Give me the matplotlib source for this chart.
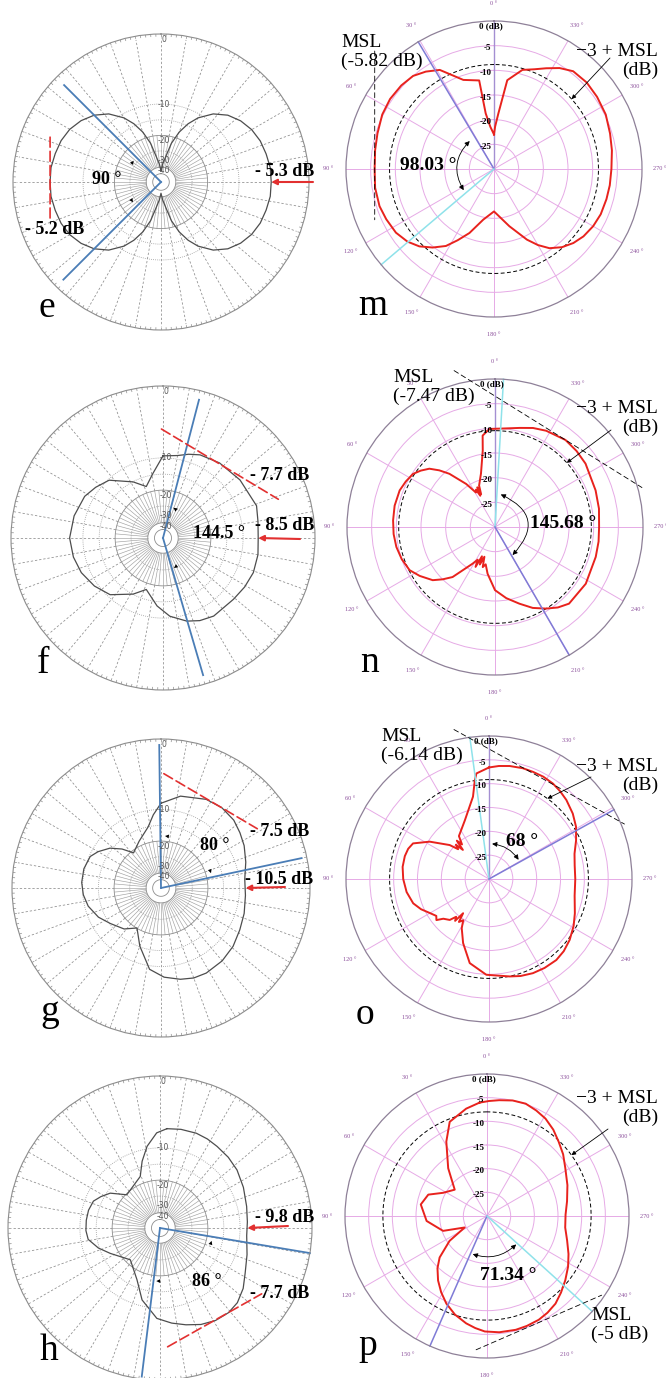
import numpy as np
import matplotlib
matplotlib.use('Agg')
import matplotlib.pyplot as plt

W, H = 666, 1378
SERIF = 'Liberation Serif'

# left panels: simulated patterns (clockwise degrees, dB)
e_ang = [0, 5, 10, 15, 20, 25, 30, 37.5, 45, 52.5, 60, 67.5, 75, 82.5, 90, 97.5, 105, 112.5, 120, 127.5,
         135, 142.5, 150, 155, 160, 165, 170, 175, 180,
         185, 190, 195, 200, 205, 210, 217.5, 225, 232.5, 240, 247.5, 255, 262.5, 270, 277.5, 285, 292.5,
         300, 307.5, 315, 322.5, 330, 335, 340, 345, 350, 355, 360]
e_db = [-40, -33, -27.9, -20.4, -16.0, -13.0, -10.8, -8.5, -7.0, -6.05, -5.4, -5.0, -4.8, -4.6, -4.6, -4.6,
        -4.8, -5.0, -5.4, -6.05, -7.0, -8.5, -10.8, -13.0, -16.0, -20.4, -27.9, -33, -40,
        -33, -27.9, -20.4, -16.0, -13.0, -10.8, -8.5, -7.0, -6.0, -5.3, -4.9, -4.7, -4.5, -4.5, -4.5, -4.7,
        -4.9, -5.3, -6.0, -7.0, -8.5, -10.8, -13.0, -16.0, -20.4, -27.9, -33, -40]
f_ang = [0, 10, 17, 24, 37, 53, 71, 80, 90, 100, 111, 121, 131, 147, 156, 164, 175, 185, 198, 208, 223, 235,
         247, 258, 270, 284, 298, 307, 317, 332, 342, 351, 360]
f_db = [-9.6, -9.3, -8.6, -8.0, -7.5, -7.1, -6.7, -7.1, -7.3, -7.1, -7.05, -7.3, -7.6, -7.65, -8.1, -8.8,
        -10.3, -12.5, -16.1, -13.6, -10.5, -9.3, -8.4, -7.9, -7.6, -7.9, -8.4, -9.2, -10.2, -13.6, -16.1,
        -13.2, -9.6]
g_ang = [0, 12, 27, 37, 47, 55, 63, 73, 84, 95, 107, 118, 129, 140, 152, 160, 168, 178, 188, 200, 211, 222,
         235, 245, 256, 265, 274, 284, 294, 300, 308, 315, 322, 335, 348, 354, 360]
g_db = [-8.8, -7.2, -6.3, -6.1, -6.3, -6.8, -7.3, -8.1, -8.9, -8.8, -8.4, -8.0, -7.4, -7.0, -6.8, -6.9, -7.3,
        -8.0, -9.3, -13.7, -18.1, -15.5, -13.7, -12.0, -10.7, -10.1, -9.8, -9.8, -10.2, -11.2, -13.0, -15.5,
        -18.8, -16.5, -13.6, -11.0, -8.8]
h_ang = [4, 12, 21, 28, 35, 44, 53, 64, 76, 86, 95, 107, 118, 126, 134, 141, 149, 157, 165, 173, 182, 194,
         204, 223, 243, 252, 261, 268, 276, 284, 292, 298, 305, 315, 339, 345, 351, 358, 364]
h_db = [-6.6, -6.4, -6.3, -6.4, -6.6, -6.8, -7.1, -7.7, -8.3, -8.6, -8.7, -8.0, -7.1, -6.1, -5.4, -5.2,
        -5.35, -5.8, -6.5, -7.2, -8.1, -11.2, -15.4, -19.5, -15.6, -13.3, -11.5, -11.2, -11.2, -11.3, -11.7,
        -12.8, -14.3, -18.3, -15.8, -12.3, -9.5, -7.3, -6.6]

# right panels: measured patterns (counter-clockwise degrees, dB)
m_ang = [0, 5, 8.5, 9.5, 19, 28.7, 35, 41, 48, 56, 64, 73, 81, 90, 99, 108, 115, 123, 130, 136, 142, 148,
         153, 159, 168, 180, 195, 205, 210, 215, 221, 227, 233, 240, 247, 255, 262, 270, 279, 287, 296, 305,
         313, 321, 327, 332.6, 338, 344, 351.5, 355.5, 358.5, 360]
m_db = [-23.0, -21.4, -18.6, -11.8, -10.9, -7.1, -5.9, -5.0, -4.7, -4.6, -4.8, -5.3, -5.6, -5.8, -5.6, -5.6,
        -5.9, -6.3, -7.1, -8.2, -9.8, -11.6, -13.8, -16.1, -19.5, -21.4, -18.0, -14.2, -12.2, -10.4, -9.0,
        -8.0, -7.3, -6.8, -6.5, -6.4, -6.3, -6.2, -5.8, -5.4, -4.8, -4.5, -4.3, -4.5, -5.6, -7.0, -8.2, -9.1,
        -11.8, -18.7, -21.4, -23.0]
n_ang = [3.3, 7.7, 9.1, 14.7, 21, 23, 24, 25.2, 27, 29, 33.8, 40.6, 44.5, 48.4, 52.8, 57.1, 63, 69, 78, 86.3,
         94, 101.4, 109, 116.8, 123, 130.5, 135, 139.7, 148.6, 152, 154, 156, 158, 160.4, 163, 166, 171, 180,
         189, 197.6, 205, 212, 218, 224, 238, 253.5, 262, 270, 280, 290, 305, 313, 321, 332, 339, 346, 363.3]
n_db = [-10.1, -11.3, -14.3, -18.8, -21.0, -22.8, -21.2, -23.0, -21.5, -22.0, -19.5, -15.8, -13.9, -12.2,
        -11.1, -10.2, -9.7, -9.3, -9.2, -9.3, -9.4, -9.6, -10.0, -10.6, -11.8, -13.4, -15.0, -16.7, -21.3,
        -22.5, -21.0, -23.5, -21.8, -23.6, -21.5, -22.2, -20.4, -17.2, -15.4, -13.7, -11.9, -10.5, -9.3,
        -8.4, -8.3, -8.7, -8.8, -8.9, -8.6, -8.3, -7.6, -7.4, -7.3, -7.9, -8.5, -9.3, -10.1]
o_ang = [0, 6.8, 8.2, 11, 22.4, 35, 38, 40, 41.9, 44, 46, 49.2, 57.8, 64.9, 69.5, 74.8, 82, 90, 99, 107.8,
         114, 120, 125, 128, 131, 136.2, 139, 141, 142.9, 145, 148, 151, 158, 167.1, 178.4, 192, 198, 205,
         212, 219.7, 226, 233, 241, 248.2, 259, 270, 279, 286.4, 294, 301, 308, 315.6, 321, 326.2, 332,
         337.7, 343, 349.6, 355, 360]
o_db = [-6.6, -7.7, -9.1, -12.4, -16.7, -19.0, -20.8, -19.5, -21.8, -20.0, -21.0, -19.1, -15.3, -12.4,
        -11.9, -11.7, -11.7, -12.0, -12.5, -13.3, -14.4, -15.7, -16.5, -16.0, -17.3, -18.1, -19.5, -18.7,
        -21.0, -19.0, -19.8, -18.2, -15.5, -11.9, -9.9, -9.1, -8.6, -8.2, -8.0, -7.9, -8.2, -8.8, -9.7,
        -10.6, -11.7, -11.9, -11.8, -11.3, -10.0, -8.7, -7.7, -6.8, -6.3, -5.9, -5.7, -5.7, -5.7, -5.9,
        -6.2, -6.6]
p_ang = [3.8, 11, 21.6, 28.7, 39.1, 50.8, 62.2, 70, 80.1, 94.7, 108.7, 117.2, 123.6, 131.2, 136.5, 142.8,
         149, 155.1, 162, 169, 174, 178.9, 186, 194.2, 200, 206.5, 212, 218, 224, 230.6, 238, 245, 253,
         261.6, 271, 280.5, 291, 301.5, 309, 316, 322.5, 329, 335, 341, 347.5, 354, 359, 363.8]
p_db = [-6.0, -6.9, -8.6, -12.1, -17.0, -21.2, -19.5, -16.8, -15.8, -17.2, -20.2, -24.7, -20.5, -16.7,
        -14.8, -12.9, -11.2, -9.6, -8.1, -6.9, -6.2, -5.6, -5.3, -5.2, -5.3, -5.5, -5.9, -6.5, -7.5, -8.6,
        -9.8, -11.0, -12.3, -13.3, -13.4, -12.8, -11.8, -10.6, -9.3, -8.2, -7.0, -6.0, -5.4, -4.9, -5.0,
        -5.4, -5.7, -6.0]

# annotated levels and beam widths
e_side, e_msl, e_beam = -5.3, -5.2, 90
f_side, f_msl, f_beam = -8.5, -7.7, 144.5
g_side, g_msl, g_beam = -10.5, -7.5, 80
h_side, h_msl, h_beam = -9.8, -7.7, 86
m_msl, m_beam = -5.82, 98.03
n_msl, n_beam = -7.47, 145.68
o_msl, o_beam = -6.14, 68
p_msl, p_beam = -5, 71.34

left_rings = [0, -10, -20, -30, -40]
left_ring_labels = ['0', '-10', '-20', '-30', '-40']
right_rings = [0, -5, -10, -15, -20, -25]
right_ring_labels = ['0 (dB)', '-5', '-10', '-15', '-20', '-25']
theta_labels = [f'{a} °' for a in range(0, 360, 30)]

RED = '#e23030'
CURVE = '#e8221d'
BLUE = '#4a7db6'
CYAN = '#8fe2ea'
VIOLET = '#7f7bd6'
GRAY = '#8c8c8c'

LMIN = -100


def fwd(d):
    return 10.0 ** (np.asarray(d, float) / 36.0)


def inv(r):
    return 36.0 * np.log10(np.clip(np.asarray(r, float), 1e-9, None))


C0 = fwd(LMIN)


def lfrac(d):
    return (fwd(d) - C0) / (1 - C0)


def ldb(f):
    return float(inv(np.asarray(f) * (1 - C0) + C0))


def rfrac(d):
    return (d + 30) / 30.0


def rdb(f):
    return 30.0 * f - 30.0


fig = plt.figure(figsize=(W / 100, H / 100), dpi=100)
fig.patch.set_facecolor('white')


def FF(x, y):
    return (x / W, 1 - y / H)


def polar_at(cx, cy, R):
    ax = fig.add_axes([(cx - R) / W, 1 - (cy + R) / H, 2 * R / W, 2 * R / H], projection='polar')
    ax.set_theta_zero_location('N')
    ax.patch.set_alpha(0)
    return ax


def straight(ax, th0, d0, s1, s2, frac, dval, **kw):
    # line tangent to the circle r=d0 at angle th0, running s1..s2 along the tangent
    f0 = frac(d0)
    p = [(np.radians(th0) + np.arctan2(s, f0), dval(np.hypot(f0, s))) for s in (s1, s2)]
    ax.annotate('', xy=p[1], xytext=p[0], annotation_clip=False,
                arrowprops=dict(arrowstyle='-', shrinkA=0, shrinkB=0, **kw))


def angle_arc(ax, th1, th2, d, sense, lw):
    rad = sense * np.tan(np.radians(th2 - th1) / 4)
    ax.annotate('', xy=(np.radians(th2), d), xytext=(np.radians(th1), d), annotation_clip=False,
                arrowprops=dict(arrowstyle='<|-|>', connectionstyle=f'arc3,rad={rad:.3f}', color='k',
                                lw=lw, mutation_scale=7, shrinkA=0, shrinkB=0))


def left_panel(cx, cy, R, ang, db):
    ax = polar_at(cx, cy, R)
    ax.set_theta_direction(-1)
    ax.set_rscale('function', functions=(fwd, inv))
    ax.set_ylim(LMIN, 0)
    ax.set_xticks([])
    ax.set_yticks([])
    ax.grid(False)
    ax.spines['polar'].set_color(GRAY)
    ax.spines['polar'].set_linewidth(0.8)
    t2 = np.radians(np.arange(0, 360, 2))
    t5 = np.radians(np.arange(0, 360, 5))
    t10 = np.radians(np.arange(0, 360, 10))
    ax.vlines(t2, ldb(0.982), 0, color=GRAY, lw=0.5)
    ax.vlines(t10, ldb(0.315), ldb(0.975), color=GRAY, lw=0.55, linestyles=(0, (3, 2.5)))
    ax.vlines(t5, ldb(0.10), ldb(0.315), color='#a0a0a0', lw=0.45)
    full = np.linspace(0, 2 * np.pi, 361)
    for f in (0.056, 0.10, 0.315):
        ax.plot(full, np.full_like(full, ldb(f)), color=GRAY, lw=0.6)
    for f in (0.21, 0.42, 0.527):
        ax.plot(full, np.full_like(full, ldb(f)), color='#9a9a9a', lw=0.6, ls=(0, (1, 1.5)))
    for d, lab in zip(left_rings, left_ring_labels):
        ax.annotate(lab, xy=(0, d if d < 0 else -0.01), xytext=(2, -4 if d == 0 else 0),
                    textcoords='offset points', ha='center', va='center', fontsize=5.5, color='#555555')
    ax.plot(np.radians(ang), db, color='#4d4d4d', lw=0.9)
    ax.set_ylim(LMIN, 0)
    return ax


def left_marks(ax, ang, db, beams, tang, arc, tail):
    for th, f in beams:
        ax.plot([np.radians(th)] * 2, [LMIN, ldb(f)], color=BLUE, lw=1.3, clip_on=False)
    th0, s1, s2 = tang
    straight(ax, th0, np.interp(th0, ang, db, period=360), s1, s2, lfrac, ldb,
             color=RED, lw=1.2, linestyle=(0, (6, 2.5)))
    ax.annotate('', xy=(np.radians(90), np.interp(90, ang, db, period=360)), xytext=FF(*tail),
                textcoords='figure fraction', annotation_clip=False,
                arrowprops=dict(arrowstyle='-|>', color=RED, lw=1.5, mutation_scale=8, shrinkA=0, shrinkB=0))
    angle_arc(ax, arc[0], arc[1], ldb(arc[2]), -1, 0)
    ax.set_ylim(LMIN, 0)


def right_panel(cx, cy, R, ang, db, msl, zero_spoke=True):
    ax = polar_at(cx, cy, R)
    ax.set_theta_direction(1)
    ax.set_ylim(-30, 0)
    ax.set_yticks(right_rings[1:])
    ax.set_yticklabels([])
    ax.set_xticks(np.radians(np.arange(0, 360, 30)))
    ax.set_xticklabels(theta_labels, family=SERIF)
    ax.tick_params(axis='x', pad=2, labelsize=4.5, labelcolor='#8b4f9b')
    ax.grid(True, color='#e6aae6', lw=0.7)
    ax.spines['polar'].set_color('#8e8098')
    ax.spines['polar'].set_linewidth(0.9)
    if zero_spoke:
        ax.plot([0, 0], [-30, 0], color='#a48fd2', lw=1.0)
    full = np.linspace(0, 2 * np.pi, 361)
    ax.plot(full, np.full_like(full, msl - 3), color='k', lw=0.7, dashes=(4, 2.5))
    for d, lab in zip(right_rings, right_ring_labels):
        ax.annotate(lab, xy=(0, d), xytext=(-2, -4) if d == 0 else (-2, -2), textcoords='offset points',
                    ha='center' if d == 0 else 'right', va='center', fontsize=6.5, fontweight='bold',
                    family=SERIF)
    ax.plot(np.radians(ang), db, color=CURVE, lw=1.4)
    ax.set_ylim(-30, 0)
    return ax


def right_marks(ax, msl, beams, tang, arc, arrow_th, tail):
    for th, c in beams:
        ax.plot([np.radians(th)] * 2, [-30, 0], color=c, lw=1.1, clip_on=False)
    straight(ax, tang[0], msl, tang[1], tang[2], rfrac, rdb, color='k', lw=0.6, linestyle=(0, (6, 4)))
    angle_arc(ax, arc[0], arc[1], arc[2], 1, 0.6)
    ax.annotate('', xy=(np.radians(arrow_th), msl - 3), xytext=FF(*tail), textcoords='figure fraction',
                annotation_clip=False,
                arrowprops=dict(arrowstyle='-|>', color='k', lw=0.6, mutation_scale=6, shrinkA=0, shrinkB=0))
    ax.set_ylim(-30, 0)


def bold(x, y, s, size=13, ha='left'):
    fig.text(*FF(x, y), s, ha=ha, va='center', fontsize=size, fontweight='bold', family=SERIF)


def plain(x, y, s, ha='left'):
    fig.text(*FF(x, y), s, ha=ha, va='center', fontsize=14, family=SERIF, linespacing=1.1,
             multialignment=ha)


def side(v):
    return f'- {abs(v):g} dB'


# ---- left column ----
ax = left_panel(161, 182, 148, e_ang, e_db)
left_marks(ax, e_ang, e_db, [(315, 0.926), (225, 0.933)], (270, 0.303, -0.258), (234, 308, 0.234), (313, 182))
bold(255, 172, side(e_side))
bold(25, 230, side(e_msl))
bold(92, 180, f'{e_beam:g} °')

ax = left_panel(163, 538, 152, f_ang, f_db)
left_marks(ax, f_ang, f_db, [(14.6, 0.94), (163.7, 0.94)], (31, -0.378, 0.519), (19, 160, 0.21), (300, 539))
bold(250, 475, side(f_msl))
bold(255, 526, side(f_side))
bold(193, 533, f'{f_beam:g} °')

ax = left_panel(161, 888, 149, g_ang, g_db)
left_marks(ax, g_ang, g_db, [(359.3, 0.96), (78, 0.965)], (30.5, -0.373, 0.355), (4.4, 73.5, 0.35), (285, 887))
bold(250, 832, side(g_msl))
bold(245, 879, side(g_side))
bold(200, 846, f'{g_beam:g} °')

ax = left_panel(160, 1228, 152, h_ang, h_db)
left_marks(ax, h_ang, h_db, [(99.5, 1.0), (187, 0.985)], (150.6, 0.34, -0.37), (104, 184, 0.35), (288, 1226))
bold(255, 1217, side(h_side))
bold(250, 1293, side(h_msl))
bold(192, 1282, f'{h_beam:g} °')

# ---- right column ----
ax = right_panel(494, 169, 148, m_ang, m_db, m_msl)
right_marks(ax, m_msl, [(30.8, VIOLET), (130.3, CYAN)], (90, -0.797, 0.343), (41, 125, -22.5), 312, (610, 58))
plain(341, 52, f'MSL\n({m_msl:g} dB)')
plain(658, 61, '\u22123 + MSL\n(dB)', ha='right')
bold(400, 166, f'{m_beam:g} °', 14)

ax = right_panel(495, 527, 148, n_ang, n_db, n_msl)
right_marks(ax, n_msl, [(356.7, CYAN), (210.1, VIOLET)], (328.1, 0.793, -0.702), (212, 350, -23.3), 311.8,
            (611, 430))
plain(393, 387, f'MSL\n({n_msl:g} dB)')
plain(658, 418, '\u22123 + MSL\n(dB)', ha='right')
bold(530, 523, f'{n_beam:g} °', 14)

ax = right_panel(489, 879, 143, o_ang, o_db, o_msl)
right_marks(ax, o_msl, [(7.7, CYAN), (299, VIOLET)], (331, 0.721, -0.642), (303, 355, -22.6), 324, (591, 777))
plain(381, 746, f'MSL\n({o_msl:g} dB)')
plain(658, 776, '\u22123 + MSL\n(dB)', ha='right')
bold(506, 841, f'{o_beam:g} °', 14)

ax = right_panel(487, 1216, 142, p_ang, p_db, p_msl, zero_spoke=False)
right_marks(ax, p_msl, [(156.3, VIOLET), (227.8, CYAN)], (203.5, -0.446, 0.518), (159.5, 225.7, -21.4), 305.8,
            (608, 1129))
plain(591, 1325, f'MSL\n({p_msl:g} dB)')
plain(658, 1108, '\u22123 + MSL\n(dB)', ha='right')
bold(480, 1276, f'{p_beam:g} °', 14)

# panel letters
for s, x, y in [('e', 38, 317), ('f', 37, 673), ('g', 40, 1021), ('h', 40, 1360),
                ('m', 358, 315), ('n', 360, 672), ('o', 356, 1024), ('p', 358, 1355)]:
    fig.text(*FF(x, y), s, ha='left', va='baseline', fontsize=27, family=SERIF)

fig.savefig('out.png', dpi=100, facecolor='white')
